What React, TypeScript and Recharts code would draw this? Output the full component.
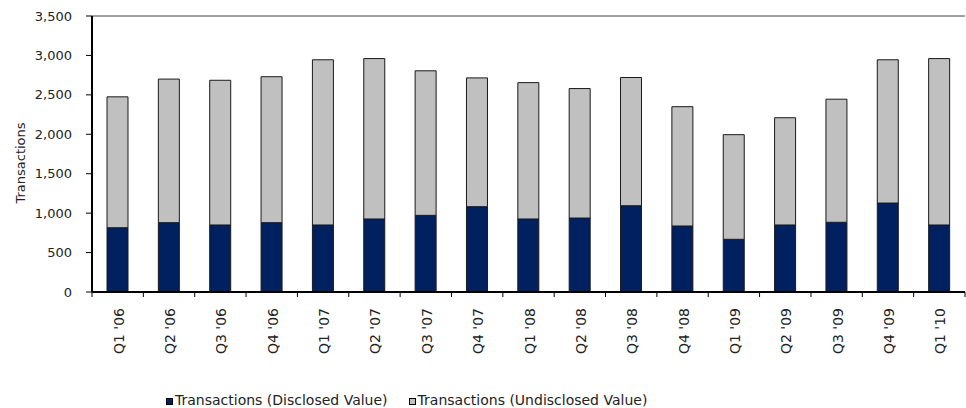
import React from "react";
import { BarChart, Bar, XAxis, YAxis, ReferenceLine, Legend, Label } from "recharts";

const categories = ["Q1 '06", "Q2 '06", "Q3 '06", "Q4 '06", "Q1 '07", "Q2 '07", "Q3 '07", "Q4 '07", "Q1 '08", "Q2 '08", "Q3 '08", "Q4 '08", "Q1 '09", "Q2 '09", "Q3 '09", "Q4 '09", "Q1 '10"];
const disclosed = [815, 879, 850, 879, 850, 926, 972, 1082, 926, 938, 1094, 837, 668, 850, 884, 1128, 850];
const undisclosed = [1660, 1821, 1835, 1851, 2095, 2034, 1833, 1633, 1729, 1642, 1626, 1513, 1327, 1360, 1561, 1817, 2110];
const yTicks = [0, 500, 1000, 1500, 2000, 2500, 3000, 3500];

const SERIES_DISCLOSED = "Transactions (Disclosed Value)";
const SERIES_UNDISCLOSED = "Transactions (Undisclosed Value)";

const data = categories.map((c, i) => ({
  name: c,
  disclosed: disclosed[i],
  undisclosed: undisclosed[i],
}));

const W = 966;
const H = 408;
const MARGIN = { top: 16, right: 1, left: 0, bottom: 0 };
const Y_W = 92;
const X_H = 116;
const FONT = "'DejaVu Sans', sans-serif";
const NAVY = "#002060";
const GREY = "#C0C0C0";

const plotW = W - MARGIN.left - MARGIN.right - Y_W;
const band = plotW / categories.length;

const XTick = (props: any) => {
  const { x, y, payload, index } = props;
  const half = band / 2;
  return (
    <g>
      <line x1={x - half} x2={x - half} y1={y} y2={y + 5} stroke="#000" strokeWidth={1} />
      {index === categories.length - 1 && (
        <line x1={x + half} x2={x + half} y1={y} y2={y + 5} stroke="#000" strokeWidth={1} />
      )}
      <text
        x={x + 1}
        y={y + 16}
        transform={`rotate(-90 ${x + 1} ${y + 16})`}
        textAnchor="end"
        dominantBaseline="central"
        fontFamily={FONT}
        fontSize={14}
        fill="#222"
      >
        {payload.value}
      </text>
    </g>
  );
};

const LegendContent = (props: any) => {
  const { payload } = props;
  return (
    <div style={{ display: "flex", fontFamily: FONT, fontSize: 14, lineHeight: "16px", color: "#222", whiteSpace: "nowrap" }}>
      {(payload || []).map((p: any, i: number) => (
        <div key={i} style={{ display: "flex", alignItems: "center", marginRight: i === 0 ? 21 : 0 }}>
          <span
            style={{
              display: "inline-block",
              width: 5,
              height: 5,
              border: "1px solid #000",
              background: p.color,
              marginRight: 2,
              marginTop: 2,
            }}
          />
          <span>{p.value}</span>
        </div>
      ))}
    </div>
  );
};

export default function App() {
  return (
    <div>
      <style>{"body{margin:0}"}</style>
      <BarChart width={W} height={H} data={data} margin={MARGIN} barSize={21}>
        <XAxis
          dataKey="name"
          height={X_H}
          interval={0}
          tickSize={0}
          tickMargin={0}
          tickLine={false}
          axisLine={{ stroke: "#000", strokeWidth: 2 }}
          tick={<XTick />}
        />
        <YAxis
          width={Y_W}
          domain={[0, 3500]}
          ticks={yTicks}
          interval={0}
          tickSize={6}
          tickMargin={14}
          tickLine={{ stroke: "#000", strokeWidth: 1 }}
          axisLine={{ stroke: "#000", strokeWidth: 2 }}
          tick={{ fontFamily: FONT, fontSize: 13, fill: "#222" }}
          tickFormatter={(v: number) => v.toLocaleString("en-US")}
        >
          <Label
            content={(p: any) => {
              const vb = p.viewBox || { x: 0, y: 16, width: 92, height: 276 };
              const cx = vb.x + 20;
              const cy = vb.y + vb.height / 2 + 9;
              return (
                <text
                  x={cx}
                  y={cy}
                  transform={`rotate(-90 ${cx} ${cy})`}
                  textAnchor="middle"
                  dominantBaseline="central"
                  fontFamily={FONT}
                  fontSize={13}
                  fill="#222"
                >
                  Transactions
                </text>
              );
            }}
          />
        </YAxis>
        <YAxis
          yAxisId="frame"
          orientation="right"
          width={0}
          domain={[0, 3500]}
          tick={false}
          tickLine={false}
          axisLine={{ stroke: "#404040", strokeWidth: 1 }}
        />
        <ReferenceLine y={3500} stroke="#404040" strokeWidth={1} />
        <Legend
          layout="horizontal"
          verticalAlign="middle"
          align="center"
          wrapperStyle={{ top: 392, left: 166, width: "auto", height: "auto" }}
          content={<LegendContent />}
        />
        <Bar dataKey="disclosed" name={SERIES_DISCLOSED} stackId="a" fill={NAVY} stroke="#1a1a1a" strokeWidth={1} isAnimationActive={false} />
        <Bar dataKey="undisclosed" name={SERIES_UNDISCLOSED} stackId="a" fill={GREY} stroke="#1a1a1a" strokeWidth={1} isAnimationActive={false} />
      </BarChart>
    </div>
  );
}
